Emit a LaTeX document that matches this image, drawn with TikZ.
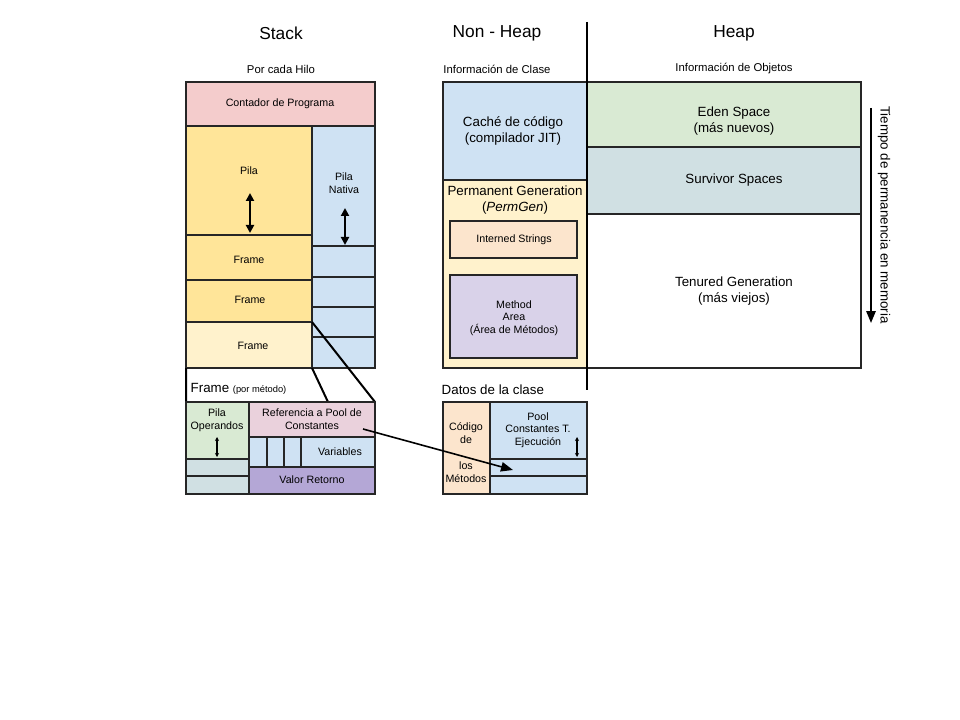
\documentclass[tikz,border=0pt]{standalone}
\usepackage{fontspec}
\setmainfont{Liberation Sans}
\usetikzlibrary{arrows.meta}
\definecolor{pk}{HTML}{F4CCCC}
\definecolor{yl}{HTML}{FFE599}
\definecolor{ly}{HTML}{FFF2CC}
\definecolor{bl}{HTML}{CFE2F3}
\definecolor{gr}{HTML}{D9EAD3}
\definecolor{bg}{HTML}{D0E0E3}
\definecolor{mg}{HTML}{EAD1DC}
\definecolor{pu}{HTML}{B4A7D6}
\definecolor{lp}{HTML}{D9D2E9}
\definecolor{or}{HTML}{FCE5CD}
\begin{document}
\begin{tikzpicture}[x=0.75pt,y=-0.75pt,
  bx/.style={draw=black!85,line width=1.5pt},
  sm/.style={font=\fontsize{8}{9.5}\selectfont,align=center},
  sb/.style={font=\fontsize{8.5}{10}\selectfont},
  md/.style={font=\fontsize{10}{12}\selectfont,align=center},
  hd/.style={font=\fontsize{13}{15}\selectfont},
  dbl/.style={{Triangle[width=6pt,length=6pt]}-{Triangle[width=6pt,length=6pt]},line width=1.5pt},
  dbs/.style={{Stealth[width=3pt,length=3pt]}-{Stealth[width=3pt,length=3pt]},line width=0.8pt}]
\useasboundingbox (0,0) rectangle (960,720);
% headers
\node[hd] (hs) at (281,33) {Stack};
\node[hd] (hn) at (497,33) {Non - Heap};
\node[hd] (hh) at (734,33) {Heap};
\node[sb] (s1) at (281,69) {Por cada Hilo};
\node[sb] (s2) at (497,69) {Información de Clase};
\node[sb] (s3) at (734,69) {Información de Objetos};
% stack
\filldraw[bx,fill=pk] (186,82) rectangle (375,126);
\node[sm] (cp) at (280,104) {Contador de Programa};
\filldraw[bx,fill=yl] (186,126) rectangle (312,235);
\node[sm] (pila) at (249,171) {Pila};
\filldraw[bx,fill=bl] (312,126) rectangle (375,246);
\node[sm] (pn) at (344,183) {Pila\\Nativa};
\foreach \a/\b in {246/277,277/307,307/337,337/368}
  \filldraw[bx,fill=bl] (312,\a) rectangle (375,\b);
\filldraw[bx,fill=yl] (186,235) rectangle (312,280);
\node[sm] (f1) at (249,260) {Frame};
\filldraw[bx,fill=yl] (186,280) rectangle (312,322);
\node[sm] (f2) at (250,300) {Frame};
\filldraw[bx,fill=ly] (186,322) rectangle (312,368);
\node[sm] (f3) at (253,346) {Frame};
\coordinate (a1) at (250,193); \coordinate (a2) at (250,233);
\draw[dbl] (a1) -- (a2);
\coordinate (b1) at (345,208); \coordinate (b2) at (345,245);
\draw[dbl] (b1) -- (b2);
% frame detail
\coordinate (c1) at (312,322); \coordinate (c2) at (375,402);
\coordinate (c3) at (312,368); \coordinate (c4) at (328,402);
\coordinate (c5) at (186,368); \coordinate (c6) at (186,402);
\draw[line width=1.5pt] (c1)--(c2) (c3)--(c4) (c5)--(c6);
\node[anchor=west,font=\fontsize{10}{12}\selectfont] (fl) at (186,389) {Frame \fontsize{7}{8}\selectfont(por método)};
\filldraw[bx,fill=gr] (186,402) rectangle (249,459);
\node[sm] (po) at (217,420) {Pila\\Operandos};
\filldraw[bx,fill=bg] (186,459) rectangle (249,476);
\filldraw[bx,fill=bg] (186,476) rectangle (249,494);
\filldraw[bx,fill=mg] (249,402) rectangle (375,437);
\node[sm] (ref) at (312,419) {Referencia a Pool de\\Constantes};
\foreach \a/\b in {249/267,267/284,284/301}
  \filldraw[bx,fill=bl] (\a,437) rectangle (\b,467);
\filldraw[bx,fill=bl] (301,437) rectangle (375,467);
\node[sm] (var) at (340,452) {Variables};
\filldraw[bx,fill=pu] (249,467) rectangle (375,494);
\node[sm] (vr) at (312,480) {Valor Retorno};
\coordinate (d1) at (217,437); \coordinate (d2) at (217,457);
\draw[dbs] (d1)--(d2);
% non-heap
\filldraw[bx,fill=bl] (443,82) rectangle (587,180);
\node[md] (cc) at (513,131) {Caché de código\\(compilador JIT)};
\filldraw[bx,fill=ly] (443,180) rectangle (587,368);
\node[md] (pg) at (515,200) {Permanent Generation\\(\textit{PermGen})};
\filldraw[bx,fill=or] (450,221) rectangle (577,258);
\node[sm] (is) at (514,240) {Interned Strings};
\filldraw[bx,fill=lp] (450,275) rectangle (577,358);
\node[sm] (ma) at (514,318) {Method\\Area\\(Área de Métodos)};
% heap
\filldraw[bx,fill=gr] (587,82) rectangle (861,147);
\node[md] (es) at (734,121) {Eden Space\\(más nuevos)};
\filldraw[bx,fill=bg] (587,147) rectangle (861,214);
\node[md] (ss) at (734,180) {Survivor Spaces};
\draw[bx] (587,214) rectangle (861,368);
\node[md] (tg) at (734,291) {Tenured Generation\\(más viejos)};
\coordinate (v1) at (587,22); \coordinate (v2) at (587,390);
\draw[line width=1.5pt] (v1)--(v2);
\coordinate (t1) at (871,108); \coordinate (t2) at (871,323);
\draw[line width=1.5pt,-{Triangle[width=7pt,length=9pt]}] (t1)--(t2);
\node[md,rotate=-90] (tp) at (884,215) {Tiempo de permanencia en memoria};
% datos de la clase
\node[anchor=west,font=\fontsize{10}{12}\selectfont] (dc) at (437,390) {Datos de la clase};
\filldraw[bx,fill=or] (443,402) rectangle (490,494);
\node[sm] (cd1) at (466,433) {Código\\de};
\node[sm] (cd2) at (466,472) {los\\Métodos};
\filldraw[bx,fill=bl] (490,402) rectangle (587,459);
\node[sm] (pc) at (538,430) {Pool\\Constantes T.\\Ejecución};
\filldraw[bx,fill=bl] (490,459) rectangle (587,476);
\filldraw[bx,fill=bl] (490,476) rectangle (587,494);
\coordinate (e1) at (577,437); \coordinate (e2) at (577,457);
\draw[dbs] (e1)--(e2);
% reference arrow
\coordinate (r1) at (363,429); \coordinate (r2) at (513,470);
\draw[line width=1.2pt,-{Triangle[width=7pt,length=9pt]}] (r1)--(r2);
\end{tikzpicture}
\end{document}
